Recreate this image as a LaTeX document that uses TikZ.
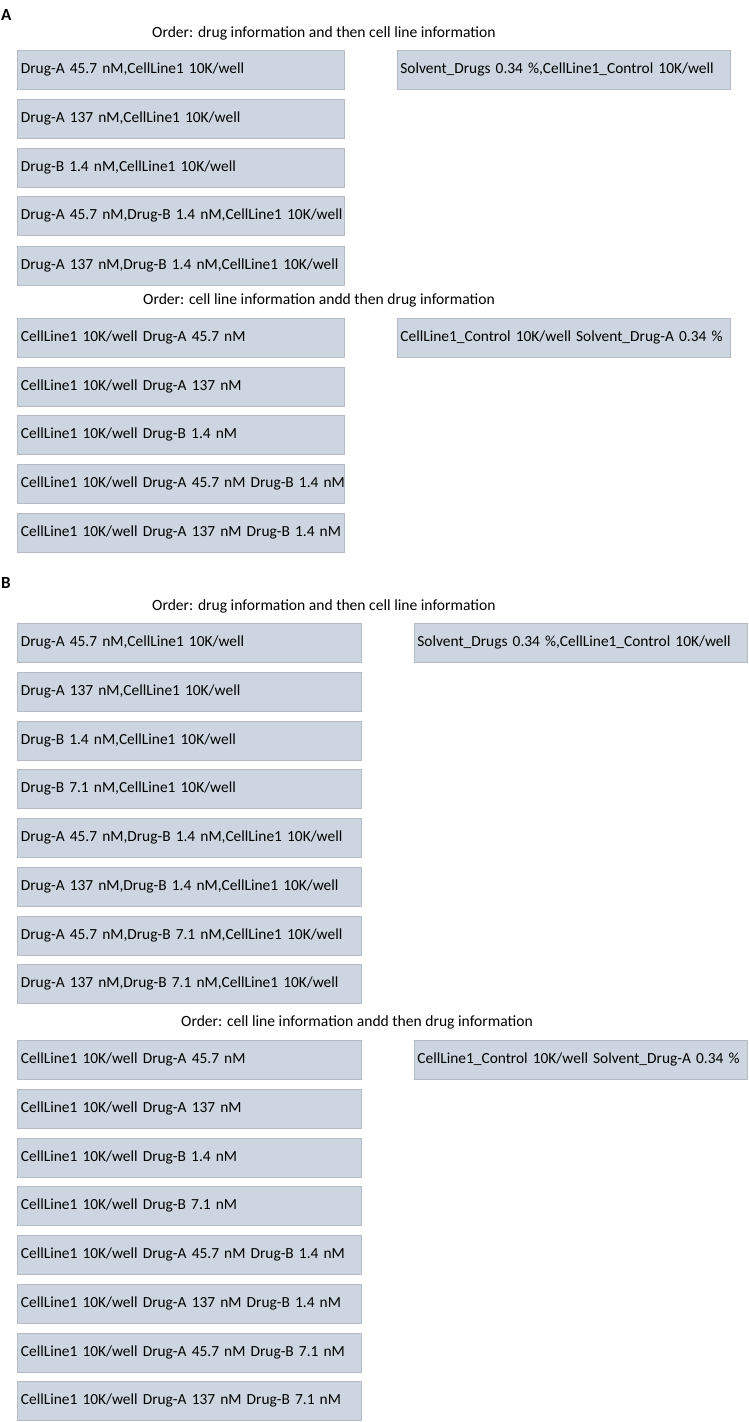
\documentclass[tikz,border=0pt]{standalone}
\usepackage{fontspec}
\setmainfont{Carlito}
\newcommand{\cl}[1]{\mbox{#1}}
\begin{document}
\begin{tikzpicture}[x=1pt,y=-1pt,
  cell/.style={draw=boxline, fill=boxfill, line width=0.8pt, rectangle, anchor=north west,
    minimum height=39pt, inner xsep=3.5pt, inner ysep=0pt, align=left, font=\fontsize{15.4}{18}\selectfont},
  cellA/.style={cell, minimum width=327pt, text width=320pt},
  cellB/.style={cell, minimum width=344pt, text width=337pt},
  cellR/.style={cell, minimum width=333pt, text width=327pt, inner xsep=3pt},
  ttl/.style={anchor=west, inner sep=0pt, font=\fontsize{15.6}{18}\selectfont},
  panel/.style={anchor=west, inner sep=0pt, font=\fontsize{17}{18}\selectfont\bfseries}]
\definecolor{boxfill}{HTML}{CDD5E0}
\definecolor{boxline}{HTML}{B4BBC5}
\useasboundingbox (0,0) rectangle (748,1422);
% Panel A
\node[panel] (lA) at (1,15) {A};
\node[ttl] (tA1) at (152,33) {Order: drug information and then cell line information};
\node[cellA] (a1) at (17,50) {\cl{Drug-A 45.7 nM,CellLine1 10K/well}};
\node[cellA] (a2) at (17,99) {\cl{Drug-A 137 nM,CellLine1 10K/well}};
\node[cellA] (a3) at (17,148) {\cl{Drug-B 1.4 nM,CellLine1 10K/well}};
\node[cellA] (a4) at (17,196) {\cl{Drug-A 45.7 nM,Drug-B 1.4 nM,CellLine1 10K/well}};
\node[cellA] (a5) at (17,246) {\cl{Drug-A 137 nM,Drug-B 1.4 nM,CellLine1 10K/well}};
\node[cellR] (ar1) at (397,50) {\cl{Solvent\_Drugs 0.34 \%,CellLine1\_Control 10K/well}};
\node[ttl] (tA2) at (143,300) {Order: cell line information andd then drug information};
\node[cellA] (a6) at (17,318) {\cl{CellLine1 10K/well Drug-A 45.7 nM}};
\node[cellA] (a7) at (17,367) {\cl{CellLine1 10K/well Drug-A 137 nM}};
\node[cellA] (a8) at (17,415) {\cl{CellLine1 10K/well Drug-B 1.4 nM}};
\node[cellA] (a9) at (17,464) {\cl{CellLine1 10K/well Drug-A 45.7 nM Drug-B 1.4 nM}};
\node[cellA] (a10) at (17,513) {\cl{CellLine1 10K/well Drug-A 137 nM Drug-B 1.4 nM}};
\node[cellR] (ar2) at (397,318) {\cl{CellLine1\_Control 10K/well Solvent\_Drug-A 0.34 \%}};
% Panel B
\node[panel] (lB) at (1,583) {B};
\node[ttl] (tB1) at (152,606) {Order: drug information and then cell line information};
\node[cellB] (b1) at (17,623) {\cl{Drug-A 45.7 nM,CellLine1 10K/well}};
\node[cellB] (b2) at (17,672) {\cl{Drug-A 137 nM,CellLine1 10K/well}};
\node[cellB] (b3) at (17,721) {\cl{Drug-B 1.4 nM,CellLine1 10K/well}};
\node[cellB] (b4) at (17,769) {\cl{Drug-B 7.1 nM,CellLine1 10K/well}};
\node[cellB] (b5) at (17,818) {\cl{Drug-A 45.7 nM,Drug-B 1.4 nM,CellLine1 10K/well}};
\node[cellB] (b6) at (17,867) {\cl{Drug-A 137 nM,Drug-B 1.4 nM,CellLine1 10K/well}};
\node[cellB] (b7) at (17,916) {\cl{Drug-A 45.7 nM,Drug-B 7.1 nM,CellLine1 10K/well}};
\node[cellB] (b8) at (17,964) {\cl{Drug-A 137 nM,Drug-B 7.1 nM,CellLine1 10K/well}};
\node[cellR] (br1) at (414,623) {\cl{Solvent\_Drugs 0.34 \%,CellLine1\_Control 10K/well}};
\node[ttl] (tB2) at (181,1022) {Order: cell line information andd then drug information};
\node[cellB] (b9) at (17,1040) {\cl{CellLine1 10K/well Drug-A 45.7 nM}};
\node[cellB] (b10) at (17,1089) {\cl{CellLine1 10K/well Drug-A 137 nM}};
\node[cellB] (b11) at (17,1138) {\cl{CellLine1 10K/well Drug-B 1.4 nM}};
\node[cellB] (b12) at (17,1186) {\cl{CellLine1 10K/well Drug-B 7.1 nM}};
\node[cellB] (b13) at (17,1235) {\cl{CellLine1 10K/well Drug-A 45.7 nM Drug-B 1.4 nM}};
\node[cellB] (b14) at (17,1284) {\cl{CellLine1 10K/well Drug-A 137 nM Drug-B 1.4 nM}};
\node[cellB] (b15) at (17,1333) {\cl{CellLine1 10K/well Drug-A 45.7 nM Drug-B 7.1 nM}};
\node[cellB] (b16) at (17,1381) {\cl{CellLine1 10K/well Drug-A 137 nM Drug-B 7.1 nM}};
\node[cellR] (br2) at (414,1040) {\cl{CellLine1\_Control 10K/well Solvent\_Drug-A 0.34 \%}};
\end{tikzpicture}
\end{document}
